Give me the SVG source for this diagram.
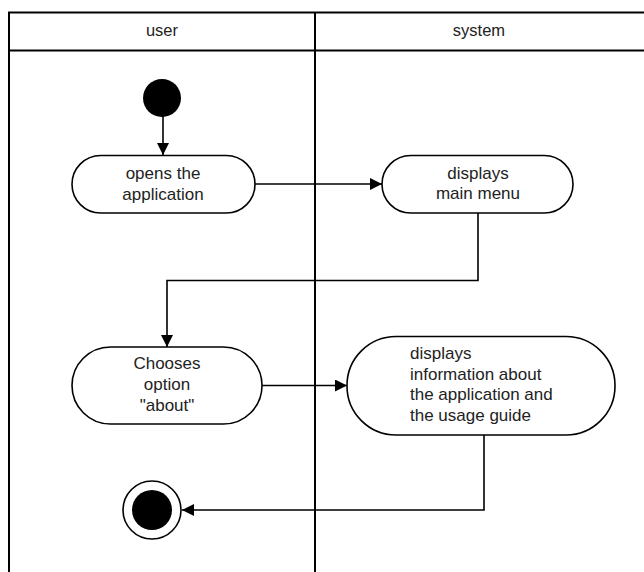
<svg xmlns="http://www.w3.org/2000/svg" width="644" height="572" viewBox="0 0 644 572">
  <defs>
    <style>
      .lane { fill: none; stroke: #000; stroke-width: 2; }
      .act { fill: #fff; stroke: #000; stroke-width: 1.6; }
      .edge { fill: none; stroke: #000; stroke-width: 1.6; }
      text { font-family: "Liberation Sans", Arial, sans-serif; font-size: 17px; fill: #222; }
      .hdr { font-size: 16.5px; }
      .c { text-anchor: middle; }
    </style>
    <marker id="arrow" viewBox="0 0 12 12" refX="12" refY="6" markerWidth="12" markerHeight="12" markerUnits="userSpaceOnUse" orient="auto">
      <path d="M0,0 L12,6 L0,12 Z" fill="#000"/>
    </marker>
  </defs>
  <rect width="644" height="572" fill="#fff"/>

  <!-- swimlanes -->
  <g id="lanes">
    <path class="lane" d="M9,572 V12.5 H644 M9,50.5 H644 M315,12.5 V572"/>
    <text class="c hdr" x="162" y="36">user</text>
    <text class="c hdr" x="479" y="36">system</text>
  </g>

  <!-- connectors -->
  <g id="connectors">
    <path class="edge" d="M163,116 V155" marker-end="url(#arrow)"/>
    <path class="edge" d="M255,184 H382" marker-end="url(#arrow)"/>
    <path class="edge" d="M478,213 V280.5 H167 V347" marker-end="url(#arrow)"/>
    <path class="edge" d="M262,385.5 H347" marker-end="url(#arrow)"/>
    <path class="edge" d="M484,435 V510 H182" marker-end="url(#arrow)"/>
  </g>

  <g id="start">
    <circle cx="162" cy="98" r="19" fill="#000"/>
  </g>

  <g id="opens">
    <rect class="act" x="72" y="155.5" width="183" height="57.5" rx="28.75"/>
    <text class="c" x="163" y="179">opens the</text>
    <text class="c" x="163" y="200">application</text>
  </g>

  <g id="mainmenu">
    <rect class="act" x="382" y="155.5" width="191" height="57.5" rx="28.75"/>
    <text class="c" x="478" y="179">displays</text>
    <text class="c" x="478" y="199">main menu</text>
  </g>

  <g id="choose">
    <rect class="act" x="72" y="347" width="190" height="77" rx="38.5"/>
    <text class="c" x="167" y="369">Chooses</text>
    <text class="c" x="167" y="390">option</text>
    <text class="c" x="167" y="411">"about"</text>
  </g>

  <g id="info">
    <rect class="act" x="347" y="336.5" width="268" height="98.5" rx="49"/>
    <text x="410" y="359">displays</text>
    <text x="410" y="379.5">information about</text>
    <text x="410" y="400">the application and</text>
    <text x="410" y="420.5">the usage guide</text>
  </g>

  <g id="end">
    <circle cx="152" cy="510" r="29" fill="#fff" stroke="#000" stroke-width="1.6"/>
    <circle cx="152" cy="510" r="20" fill="#000"/>
  </g>
</svg>
